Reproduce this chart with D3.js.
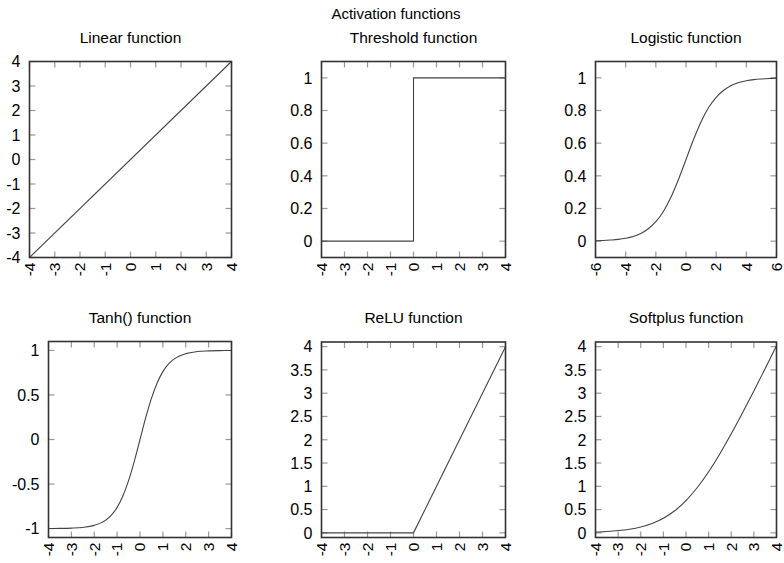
<!DOCTYPE html>
<html>
<head>
<meta charset="utf-8">
<script src="https://cdn.jsdelivr.net/npm/d3@7"></script>
<style>
  body { margin: 0; background: #fff; }
  svg { font-family: "Liberation Sans", Arial, sans-serif; }
</style>
</head>
<body>
<svg id="chart" width="784" height="563"></svg>
<script>
// ---- data ----
const linearX = [-4, 4];
const linearY = [-4, 4];

const thresholdX = [-4, 0, 0, 4];
const thresholdY = [0, 0, 1, 1];

const logisticX = [-6, -5.5, -5, -4.5, -4, -3.5, -3, -2.5, -2, -1.5, -1, -0.5, 0,
                   0.5, 1, 1.5, 2, 2.5, 3, 3.5, 4, 4.5, 5, 5.5, 6];
const logisticY = [0.0025, 0.004, 0.007, 0.011, 0.018, 0.029, 0.047, 0.076, 0.119, 0.182, 0.269, 0.378, 0.5,
                   0.622, 0.731, 0.818, 0.881, 0.924, 0.953, 0.971, 0.982, 0.989, 0.993, 0.996, 0.998];

const tanhX = [-4, -3.5, -3, -2.5, -2, -1.5, -1.25, -1, -0.75, -0.5, -0.25, 0,
               0.25, 0.5, 0.75, 1, 1.25, 1.5, 2, 2.5, 3, 3.5, 4];
const tanhY = [-0.999, -0.998, -0.995, -0.987, -0.964, -0.905, -0.848, -0.762, -0.635, -0.462, -0.245, 0,
               0.245, 0.462, 0.635, 0.762, 0.848, 0.905, 0.964, 0.987, 0.995, 0.998, 0.999];

const reluX = [-4, 0, 4];
const reluY = [0, 0, 4];

const softplusX = [-4, -3.5, -3, -2.5, -2, -1.5, -1, -0.5, 0, 0.5, 1, 1.5, 2, 2.5, 3, 3.5, 4];
const softplusY = [0.018, 0.030, 0.049, 0.079, 0.127, 0.201, 0.313, 0.474, 0.693, 0.974, 1.313, 1.701, 2.127, 2.579, 3.049, 3.530, 4.018];

const ticksPm4 = [-4, -3, -2, -1, 0, 1, 2, 3, 4];
const ticksPm6 = [-6, -4, -2, 0, 2, 4, 6];
const ticks01 = [0, 0.2, 0.4, 0.6, 0.8, 1];
const ticksTanh = [-1, -0.5, 0, 0.5, 1];
const ticks0to4 = [0, 0.5, 1, 1.5, 2, 2.5, 3, 3.5, 4];

const mainTitle = "Activation functions";

const panels = [
  { title: "Linear function",    xs: linearX,    ys: linearY,    xDom: [-4, 4], yDom: [-4, 4],     xt: ticksPm4, yt: ticksPm4,  box: [29.5, 61.5, 231.5, 257.5] },
  { title: "Threshold function", xs: thresholdX, ys: thresholdY, xDom: [-4, 4], yDom: [-0.1, 1.1], xt: ticksPm4, yt: ticks01,   box: [321.5, 61.5, 505.5, 257.5] },
  { title: "Logistic function",  xs: logisticX,  ys: logisticY,  xDom: [-6, 6], yDom: [-0.1, 1.1], xt: ticksPm6, yt: ticks01,   box: [595.5, 61.5, 776.5, 257.5], smooth: true },
  { title: "Tanh() function",    xs: tanhX,      ys: tanhY,      xDom: [-4, 4], yDom: [-1.1, 1.1], xt: ticksPm4, yt: ticksTanh, box: [48.5, 341.5, 231.5, 537.5], smooth: true },
  { title: "ReLU function",      xs: reluX,      ys: reluY,      xDom: [-4, 4], yDom: [-0.1, 4.1], xt: ticksPm4, yt: ticks0to4, box: [321.5, 342, 505.5, 537.5] },
  { title: "Softplus function",  xs: softplusX,  ys: softplusY,  xDom: [-4, 4], yDom: [-0.1, 4.1], xt: ticksPm4, yt: ticks0to4, box: [595.5, 342, 776.5, 537.5], smooth: true }
];

const svg = d3.select('#chart');
const tickLen = 6;

svg.append('text')
  .attr('x', 396)
  .attr('y', 19)
  .attr('text-anchor', 'middle')
  .style('font-size', '15px')
  .style('fill', '#000')
  .text(mainTitle);

panels.forEach(p => {
  const [x0, y0, x1, y1] = p.box;
  const x = d3.scaleLinear().domain(p.xDom).range([x0, x1]);
  const y = d3.scaleLinear().domain(p.yDom).range([y1, y0]);
  const g = svg.append('g');

  // title
  g.append('text')
    .attr('x', (x0 + x1) / 2)
    .attr('y', y0 - 19)
    .attr('text-anchor', 'middle')
    .style('font-size', '15.5px')
    .style('fill', '#000')
    .text(p.title);

  // inward ticks, mirrored on all sides
  const tickStyle = s => s.style('stroke', '#999').style('stroke-width', 1.2);
  p.xt.forEach(t => {
    g.append('line').attr('x1', x(t)).attr('x2', x(t)).attr('y1', y1).attr('y2', y1 - tickLen).call(tickStyle);
    g.append('line').attr('x1', x(t)).attr('x2', x(t)).attr('y1', y0).attr('y2', y0 + tickLen).call(tickStyle);
  });
  p.yt.forEach(t => {
    g.append('line').attr('y1', y(t)).attr('y2', y(t)).attr('x1', x0).attr('x2', x0 + tickLen).call(tickStyle);
    g.append('line').attr('y1', y(t)).attr('y2', y(t)).attr('x1', x1).attr('x2', x1 - tickLen).call(tickStyle);
  });

  // tick labels
  g.selectAll('text.ylab')
    .data(p.yt)
    .enter()
    .append('text')
    .attr('class', 'ylab')
    .attr('x', x0 - 9)
    .attr('y', d => y(d))
    .attr('dy', '0.36em')
    .attr('text-anchor', 'end')
    .style('font-size', '16px')
    .style('fill', '#000')
    .text(d => d);

  g.selectAll('text.xlab')
    .data(p.xt)
    .enter()
    .append('text')
    .attr('class', 'xlab')
    .attr('transform', d => `translate(${x(d)},${y1 + 5}) rotate(-90)`)
    .attr('dy', '0.34em')
    .attr('text-anchor', 'end')
    .style('font-size', '15.5px')
    .style('fill', '#000')
    .text(d => d);

  // curve
  const pts = p.xs.map((v, i) => [v, p.ys[i]]);
  const line = d3.line()
    .x(d => x(d[0]))
    .y(d => y(d[1]))
    .curve(p.smooth ? d3.curveMonotoneX : d3.curveLinear);
  g.append('path')
    .attr('d', line(pts))
    .style('fill', 'none')
    .style('stroke', '#444')
    .style('stroke-width', 1.1);

  // border
  g.append('rect')
    .attr('x', x0).attr('y', y0)
    .attr('width', x1 - x0).attr('height', y1 - y0)
    .style('fill', 'none')
    .style('stroke', '#333')
    .style('stroke-width', 1.6);
});
</script>
</body>
</html>
